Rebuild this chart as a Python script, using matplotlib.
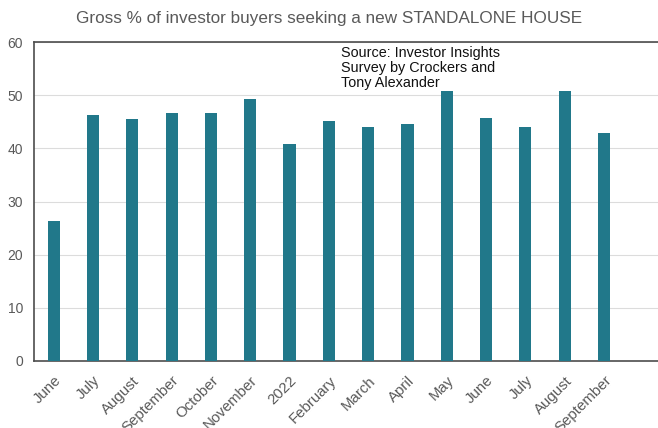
import matplotlib
matplotlib.use("Agg")
import matplotlib.pyplot as plt

categories = ["June", "July", "August", "September", "October", "November", "2022",
              "February", "March", "April", "May", "June", "July", "August", "September"]
values = [26.4, 46.3, 45.5, 46.6, 46.6, 49.2, 40.8, 45.1, 44.0, 44.5, 50.8, 45.7, 44.1, 50.7, 42.8]
yticks = [0, 10, 20, 30, 40, 50, 60]
title = "Gross % of investor buyers seeking a new STANDALONE HOUSE"
note = "Source: Investor Insights\nSurvey by Crockers and\nTony Alexander"

plt.rcParams['font.family'] = ['Liberation Sans', 'DejaVu Sans']

fig = plt.figure(figsize=(6.58, 4.28), dpi=100)
ax = fig.add_axes([34/658, 1 - 361/428, 629/658, (361-42)/428])

x = list(range(len(categories)))
ax.bar(x, values, width=0.31, color="#21788A", zorder=3)

ax.set_xlim(-0.5, 15.5)
ax.set_ylim(0, 60)
ax.set_yticks(yticks)
ax.set_xticks(x)
ax.set_xticklabels(categories, rotation=45, ha="right", rotation_mode="anchor")
ax.tick_params(axis="y", length=0, labelsize=10, colors="#595959", pad=8)
ax.tick_params(axis="x", length=0, labelsize=10.8, colors="#595959", pad=9)
ax.grid(axis="y", color="#dcdcdc", linewidth=0.8, zorder=0)
for s in ax.spines.values():
    s.set_color("#4d4d4d")
    s.set_linewidth(1.2)

ax.text(0.488, 0.988, note, transform=ax.transAxes, ha="left", va="top",
        fontsize=10.4, color="#111111", linespacing=1.12, zorder=5)

fig.text(0.5, 1 - 18/428, title, ha="center", va="center", fontsize=12.3, color="#595959")

fig.savefig("out.png", dpi=100)
